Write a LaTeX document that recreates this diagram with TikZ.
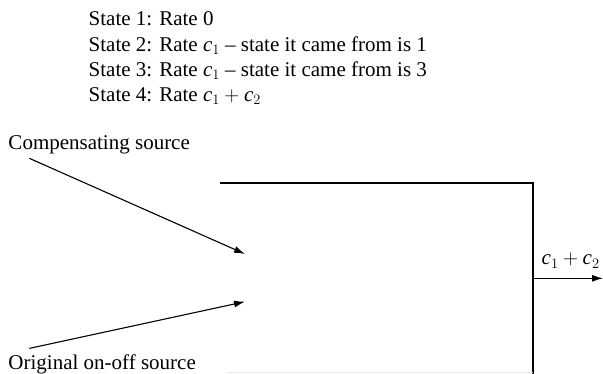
\documentclass[tikz,border=0pt]{standalone}
\usepackage{fontspec}
\setmainfont{Liberation Serif}
\usetikzlibrary{positioning,arrows.meta}
\newcommand{\rc}[1]{\mathit{c}_{#1}}

\begin{document}
\begin{tikzpicture}[
  x=1pt, y=1pt,
  txt/.style={font=\fontsize{21}{25.3}\selectfont, inner sep=0pt, anchor=base west, align=left},
  arr/.style={-{Latex[length=11pt, width=7pt]}, line width=1.1pt},
  wall/.style={line width=2.3pt}]
  \useasboundingbox (0,0) rectangle (603,374);
  % base of a multi-line node sits on its last line
  \node[txt] (states) at (88.5,272.3) {State 1: Rate 0\\ State 2: Rate $\rc1$ -- state it came from is 1\\ State 3: Rate $\rc1$ -- state it came from is 3\\ State 4: Rate $\rc1+\rc2$};
  \node[txt] (comp) at (8.3,224) {Compensating source};
  \node[txt] (orig) at (8.3,4.4) {Original on-off source};
  \node[txt] (rate) at (541.5,109) {$\rc1+\rc2$};

  \coordinate (compstart) at (29.3,215.7);
  \coordinate (compend) at (245,120);
  \coordinate (origstart) at (29.3,25.6);
  \coordinate (origend) at (245,72.3);
  \coordinate (boxtl) at (220,191);
  \coordinate (boxtr) at (533,191);
  \coordinate (boxbr) at (533,0);
  \coordinate (outstart) at (533,95.7);
  \coordinate (outend) at (603,95.7);

  \draw[wall] (boxtl) -- (boxtr) -- (boxbr);
  \draw[gray!20, line width=0.8pt] (boxbr |- 0,1.8) -- (228,1.8);
  \draw[arr] (compstart) -- (compend);
  \draw[arr] (origstart) -- (origend);
  \draw[arr] (outstart) -- (outend);
\end{tikzpicture}
\end{document}
